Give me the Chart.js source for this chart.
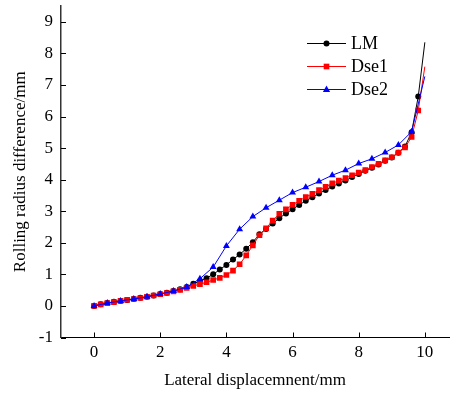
<!DOCTYPE html>
<html>
<head>
<meta charset="utf-8">
<script src="https://cdn.jsdelivr.net/npm/chart.js@4.4.0/dist/chart.umd.min.js"></script>
<style>
  body { margin: 0; background: #fff; }
</style>
</head>
<body>
<canvas id="chart" width="453" height="393"></canvas>
<script>
// lateral displacement (mm), LM and Dse1 share these
const xFine = [0, 0.2, 0.4, 0.6, 0.8, 1.0, 1.2, 1.4, 1.6, 1.8, 2.0, 2.2, 2.4, 2.6, 2.8, 3.0,
  3.2, 3.4, 3.6, 3.8, 4.0, 4.2, 4.4, 4.6, 4.8, 5.0, 5.2, 5.4, 5.6, 5.8, 6.0,
  6.2, 6.4, 6.6, 6.8, 7.0, 7.2, 7.4, 7.6, 7.8, 8.0, 8.2, 8.4, 8.6, 8.8, 9.0,
  9.2, 9.4, 9.6, 9.8, 10.0];
const yLM = [0, 0.05, 0.09, 0.13, 0.16, 0.19, 0.22, 0.26, 0.29, 0.33, 0.38, 0.42, 0.47, 0.53, 0.6, 0.7,
  0.79, 0.88, 1.0, 1.15, 1.3, 1.47, 1.63, 1.81, 2.02, 2.27, 2.44, 2.61, 2.78, 2.93, 3.06,
  3.2, 3.33, 3.44, 3.56, 3.67, 3.78, 3.88, 3.97, 4.08, 4.18, 4.28, 4.38, 4.48, 4.6, 4.7,
  4.85, 5.05, 5.5, 6.63, 8.35];
const yDse1 = [0, 0.05, 0.09, 0.12, 0.16, 0.19, 0.22, 0.25, 0.29, 0.33, 0.37, 0.41, 0.46, 0.51, 0.57, 0.63,
  0.69, 0.75, 0.82, 0.89, 0.98, 1.12, 1.32, 1.6, 1.92, 2.24, 2.46, 2.7, 2.92, 3.06, 3.2,
  3.33, 3.45, 3.55, 3.67, 3.77, 3.88, 3.97, 4.05, 4.14, 4.22, 4.3, 4.4, 4.5, 4.61, 4.71,
  4.86, 5.02, 5.35, 6.19, 7.58];
// Dse2 was sampled coarser
const xDse2 = [0, 0.4, 0.8, 1.2, 1.6, 2.0, 2.4, 2.8, 3.2, 3.6, 4.0, 4.4, 4.8, 5.2, 5.6, 6.0,
  6.4, 6.8, 7.2, 7.6, 8.0, 8.4, 8.8, 9.2, 9.6, 10.0];
const yDse2 = [0, 0.09, 0.16, 0.22, 0.29, 0.38, 0.47, 0.6, 0.86, 1.23, 1.9, 2.43, 2.83, 3.11, 3.35, 3.59,
  3.76, 3.94, 4.14, 4.3, 4.51, 4.66, 4.86, 5.1, 5.52, 7.27];

const xTicks = [0, 2, 4, 6, 8, 10];
const yTicks = [-1, 0, 1, 2, 3, 4, 5, 6, 7, 8, 9];

const serif = '"Liberation Serif", "Times New Roman", serif';

function pts(xs, ys) {
  return xs.map((x, i) => ({ x: x, y: ys[i] }));
}
// no marker on the very last sample
function noLastMarker(r) {
  return ctx => ctx.dataIndex === ctx.dataset.data.length - 1 ? 0 : r;
}

function marker(ctx, style, x, y, r, color) {
  ctx.fillStyle = color;
  ctx.beginPath();
  if (style === 'circle') {
    ctx.arc(x, y, r, 0, Math.PI * 2);
  } else if (style === 'rect') {
    const s = r * Math.SQRT1_2;
    ctx.rect(x - s, y - s, 2 * s, 2 * s);
  } else {
    const h = r * 1.5;
    ctx.moveTo(x, y - r);
    ctx.lineTo(x + h * 0.6, y + r * 0.6);
    ctx.lineTo(x - h * 0.6, y + r * 0.6);
    ctx.closePath();
  }
  ctx.fill();
}

const lineLegend = {
  id: 'lineLegend',
  afterDraw(chart) {
    const ctx = chart.ctx;
    const rows = [43, 66, 89];
    ctx.save();
    ctx.font = '18px ' + serif;
    ctx.textBaseline = 'middle';
    chart.data.datasets.forEach((ds, i) => {
      const y = rows[i];
      ctx.strokeStyle = ds.borderColor;
      ctx.lineWidth = 1;
      ctx.beginPath();
      ctx.moveTo(307, y + 0.5);
      ctx.lineTo(346, y + 0.5);
      ctx.stroke();
      marker(ctx, ds.pointStyle, 326.5, y + 0.5, ds.legendR, ds.borderColor);
      ctx.fillStyle = '#000';
      ctx.fillText(ds.label, 351, y + 1);
    });
    ctx.restore();
  }
};

const inwardTicks = {
  id: 'inwardTicks',
  afterDraw(chart) {
    const { ctx, chartArea, scales } = chart;
    ctx.save();
    ctx.strokeStyle = '#000';
    ctx.lineWidth = 1;
    ctx.beginPath();
    xTicks.forEach(v => {
      const px = Math.round(scales.x.getPixelForValue(v)) + 0.5;
      ctx.moveTo(px, chartArea.bottom);
      ctx.lineTo(px, chartArea.bottom - 5);
    });
    yTicks.forEach(v => {
      const py = Math.round(scales.y.getPixelForValue(v)) + 0.5;
      ctx.moveTo(chartArea.left, py);
      ctx.lineTo(chartArea.left + 5, py);
    });
    ctx.stroke();
    ctx.restore();
  }
};

new Chart(document.getElementById('chart'), {
  type: 'line',
  data: {
    datasets: [{
      label: 'LM',
      data: pts(xFine, yLM),
      borderColor: '#000000',
      backgroundColor: '#000000',
      pointStyle: 'circle',
      pointRadius: noLastMarker(3),
      legendR: 3,
      order: 3
    }, {
      label: 'Dse1',
      data: pts(xFine, yDse1),
      borderColor: '#ff0000',
      backgroundColor: '#ff0000',
      pointStyle: 'rect',
      pointRadius: noLastMarker(4),
      legendR: 4,
      order: 2
    }, {
      label: 'Dse2',
      data: pts(xDse2, yDse2),
      borderColor: '#0000ff',
      backgroundColor: '#0000ff',
      pointStyle: 'triangle',
      pointRadius: noLastMarker(4),
      legendR: 4,
      order: 1
    }]
  },
  options: {
    responsive: false,
    animation: false,
    devicePixelRatio: 1,
    elements: {
      line: { borderWidth: 1, tension: 0 },
      point: { borderWidth: 0, hoverRadius: 3 }
    },
    layout: { padding: { top: 6, right: 0, left: 0, bottom: 0 } },
    plugins: {
      legend: { display: false },
      tooltip: { enabled: false }
    },
    scales: {
      x: {
        type: 'linear',
        min: -1,
        max: 10.73,
        afterBuildTicks: s => { s.ticks = xTicks.map(v => ({ value: v })); },
        afterFit: s => {
          s.height = 55.5;
          s.paddingLeft = 0;
          s.paddingRight = 0;
        },
        grid: { display: false, drawTicks: false },
        border: { display: true, color: '#000', width: 1 },
        ticks: { color: '#000', padding: 5, font: { family: serif, size: 17 } },
        title: {
          display: true,
          text: 'Lateral displacemnent/mm',
          color: '#000',
          font: { family: serif, size: 17 },
          padding: { top: 0, bottom: 2 }
        }
      },
      y: {
        type: 'linear',
        min: -1,
        max: 9.5,
        afterBuildTicks: s => { s.ticks = yTicks.map(v => ({ value: v })); },
        afterFit: s => {
          s.width = 61;
          s.paddingTop = 0;
          s.paddingBottom = 0;
        },
        grid: { display: false, drawTicks: false },
        border: { display: true, color: '#333', width: 1.5 },
        ticks: { color: '#000', padding: 8, font: { family: serif, size: 17 } },
        title: {
          display: true,
          text: 'Rolling radius difference/mm',
          color: '#000',
          font: { family: serif, size: 17 },
          padding: { top: 10, bottom: 0 }
        }
      }
    }
  },
  plugins: [lineLegend, inwardTicks]
});
</script>
</body>
</html>
